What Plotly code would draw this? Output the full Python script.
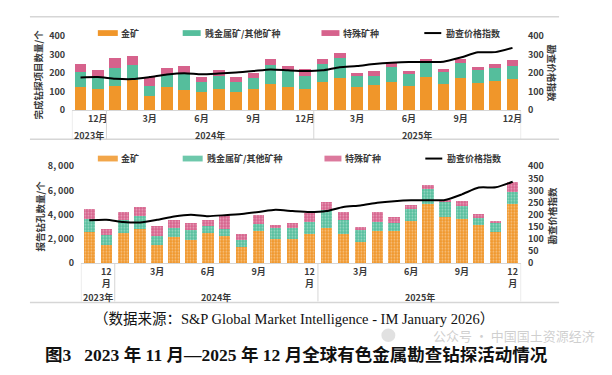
import plotly.graph_objects as go

W, H = 612, 375

months = ["2023-11", "2023-12"] + [f"2024-{m:02d}" for m in range(1, 13)] + [f"2025-{m:02d}" for m in range(1, 13)]
tick_months = ["2023-12", "2024-03", "2024-06", "2024-09", "2024-12", "2025-03", "2025-06", "2025-09", "2025-12"]
tick_text_top = ["12月", "3月", "6月", "9月", "12月", "3月", "6月", "9月", "12月"]
tick_text_bottom = ["12<br>月", "3月", "6月", "9月", "12<br>月", "3月", "6月", "9月", "12<br>月"]
year_labels = ["2023年", "2024年", "2025年"]

# Top panel: completed drilling projects (count)
proj_gold = [123, 112, 133, 165, 79, 123, 111, 100, 112, 96, 112, 142, 123, 116, 154, 175, 123, 135, 152, 133, 177, 140, 173, 145, 158, 171]
proj_base = [84, 60, 93, 81, 54, 68, 87, 53, 74, 55, 62, 102, 96, 70, 94, 106, 64, 52, 82, 61, 81, 68, 83, 70, 71, 69]
proj_special = [44, 47, 53, 45, 48, 35, 39, 28, 30, 30, 28, 31, 18, 37, 27, 29, 16, 24, 24, 19, 19, 15, 21, 19, 20, 31]

# Bottom panel: reported drill holes (count)
hole_gold = [2610, 1490, 2480, 2830, 1520, 2190, 1890, 2510, 2210, 1330, 2640, 2000, 2030, 2410, 2930, 2420, 1785, 2620, 2650, 3490, 4900, 3835, 3635, 3170, 2540, 4870]
hole_base = [1020, 800, 1110, 1060, 750, 690, 880, 530, 600, 560, 610, 930, 900, 1025, 1420, 1130, 945, 790, 705, 1000, 1210, 1250, 1075, 520, 760, 975]
hole_special = [800, 510, 600, 720, 800, 690, 510, 510, 1145, 480, 695, 240, 375, 665, 680, 670, 240, 820, 425, 330, 330, 150, 430, 345, 200, 865]

# Exploration price index
price_index = [177, 179, 170, 168, 179, 193, 200, 194, 198, 203, 211, 220, 215, 211, 215, 232, 238, 249, 256, 260, 260, 261, 284, 312, 313, 336]

names = ["金矿", "贱金属矿/其他矿种", "特殊矿种", "勘查价格指数"]
C_GOLD, C_BASE, C_SPEC = "#F0962A", "#55BE9C", "#D6628C"
TXT = "#3a3a3a"
GRID = "#d6d6d6"
FONT = "Noto Sans CJK SC, Noto Sans, sans-serif"
SERIF = "Liberation Serif, Noto Sans CJK SC, serif"


def px(x):
    return x / W


def py(y):
    return 1 - y / H


fig = go.Figure()

# top bars
for vals, col, nm in [(proj_gold, C_GOLD, names[0]), (proj_base, C_BASE, names[1]), (proj_special, C_SPEC, names[2])]:
    fig.add_trace(go.Bar(x=months, y=vals, name=nm, marker=dict(color=col, line=dict(width=0)),
                         xaxis="x", yaxis="y", showlegend=False))
fig.add_trace(go.Scatter(x=months, y=price_index, mode="lines", name=names[3],
                         line=dict(color="black", width=2, shape="spline", smoothing=0.6),
                         xaxis="x", yaxis="y2", showlegend=False))

# bottom bars (textured)
for vals, col, nm in [(hole_gold, C_GOLD, names[0]), (hole_base, C_BASE, names[1]), (hole_special, C_SPEC, names[2])]:
    fig.add_trace(go.Bar(x=months, y=vals, name=nm,
                         marker=dict(color=col, line=dict(width=0),
                                     pattern=dict(shape=".", fgcolor="white", bgcolor=col, size=3,
                                                  solidity=0.3, fgopacity=0.45)),
                         xaxis="x2", yaxis="y3", showlegend=False))
fig.add_trace(go.Scatter(x=months, y=price_index, mode="lines", name=names[3],
                         line=dict(color="black", width=2, shape="spline", smoothing=0.6),
                         xaxis="x2", yaxis="y4", showlegend=False))

tickfont = dict(family=FONT, size=9, color=TXT, weight="bold")

fig.update_layout(
    width=W, height=H,
    margin=dict(l=0, r=0, t=0, b=0),
    paper_bgcolor="white", plot_bgcolor="rgba(0,0,0,0)",
    barmode="stack", bargap=0.33,
    font=dict(family=FONT, color=TXT),
    xaxis=dict(domain=[px(72), px(522)], anchor="y", type="category", categoryorder="array",
               categoryarray=months, tickmode="array", tickvals=tick_months, ticktext=tick_text_top,
               tickfont=tickfont, showline=True, linecolor=GRID, linewidth=1, ticks="",
               showgrid=False, zeroline=False, range=[-0.5, 25.5]),
    yaxis=dict(domain=[py(107), py(30)], anchor="x", range=[0, 400], dtick=100,
               tickfont=tickfont, showgrid=False, zeroline=False, showline=False,
               ticks="outside", ticklen=4, tickcolor="rgba(0,0,0,0)"),
    yaxis2=dict(overlaying="y", side="right", anchor="x", range=[0, 400], dtick=100,
                tickfont=tickfont, showgrid=False, zeroline=False, showline=False,
                ticks="outside", ticklen=4, tickcolor="rgba(0,0,0,0)"),
    xaxis2=dict(domain=[px(81), px(522)], anchor="y3", type="category", categoryorder="array",
                categoryarray=months, tickmode="array", tickvals=tick_months, ticktext=tick_text_bottom,
                tickfont=tickfont, showline=True, linecolor=GRID, linewidth=1, ticks="",
                showgrid=False, zeroline=False, range=[-0.5, 25.5]),
    yaxis3=dict(domain=[py(265.3), py(165)], anchor="x2", range=[0, 8000],
                tickmode="array", tickvals=[0, 2000, 4000, 6000, 8000],
                ticktext=["0", "2, 000", "4, 000", "6, 000", "8, 000"],
                tickfont=tickfont, showgrid=False, zeroline=False, showline=False,
                ticks="outside", ticklen=4, tickcolor="rgba(0,0,0,0)"),
    yaxis4=dict(overlaying="y3", side="right", anchor="x2", range=[0, 400], dtick=50,
                tickfont=tickfont, showgrid=False, zeroline=False, showline=False,
                ticks="outside", ticklen=4, tickcolor="rgba(0,0,0,0)"),
)

shapes = []
annotations = []

# frame lines
for yy in [10, 137, 306]:
    shapes.append(dict(type="line", xref="paper", yref="paper", x0=px(30), x1=px(560), y0=py(yy), y1=py(yy),
                       line=dict(color=GRID, width=1.5)))

# category group boxes
for xr, y0, y1 in [("x", 107, 137), ("x2", 265.3, 305)]:
    for b in [-0.5, 1.5, 13.5, 25.5]:
        shapes.append(dict(type="line", xref=xr, yref="paper", x0=b, x1=b, y0=py(y0), y1=py(y1),
                           line=dict(color=GRID, width=1)))

# year labels
for xr, yy in [("x", 133), ("x2", 301)]:
    for lab, xc in zip(year_labels, [0.5, 7.5, 19.5]):
        annotations.append(dict(text=lab, xref=xr, yref="paper", x=xc, y=py(yy), showarrow=False,
                                xanchor="center", yanchor="middle",
                                font=dict(family=FONT, size=9, color=TXT, weight="bold")))

# manual legends
legend_font = dict(family=FONT, size=9, color=TXT, weight="bold")
for yc, pos, textured in [(27, [(98, 118, 119), (183, 201, 203), (322, 340, 342), (425, 442, 445)], False),
                          (157, [(98, 118, 119), (183, 203, 205), (325, 342, 344), (426, 443, 446)], True)]:
    cols = [C_GOLD, C_BASE, C_SPEC]
    for i, (xa, xb, xt) in enumerate(pos):
        if i < 3:
            shapes.append(dict(type="rect", xref="paper", yref="paper", x0=px(xa), x1=px(xb),
                               y0=py(yc + 3), y1=py(yc - 3), fillcolor=cols[i], line=dict(width=0),
                               opacity=0.85 if textured else 1))
        else:
            shapes.append(dict(type="line", xref="paper", yref="paper", x0=px(xa), x1=px(xb),
                               y0=py(yc), y1=py(yc), line=dict(color="black", width=2)))
        annotations.append(dict(text=names[i], xref="paper", yref="paper", x=px(xt), y=py(yc),
                                xanchor="left", yanchor="middle", showarrow=False, font=legend_font))

# axis titles
title_font = dict(family=FONT, size=9.5, color=TXT, weight="bold")
annotations += [
    dict(text="完成钻探项目数量/个", xref="paper", yref="paper", x=px(38), y=py(70), textangle=-90,
         xanchor="center", yanchor="middle", showarrow=False, font=title_font),
    dict(text="勘查价格指数", xref="paper", yref="paper", x=px(553), y=py(69), textangle=90,
         xanchor="center", yanchor="middle", showarrow=False, font=title_font),
    dict(text="报告钻孔数量/个", xref="paper", yref="paper", x=px(40), y=py(216), textangle=-90,
         xanchor="center", yanchor="middle", showarrow=False, font=title_font),
    dict(text="勘查价格指数", xref="paper", yref="paper", x=px(552), y=py(216), textangle=-90,
         xanchor="center", yanchor="middle", showarrow=False, font=title_font),
]

# watermark icon (light grey bubble)
shapes.append(dict(type="circle", xref="paper", yref="paper", x0=px(382), x1=px(396), y0=py(347), y1=py(333),
                   fillcolor="rgba(170,170,170,0.35)", line=dict(width=0)))

# captions
annotations += [
    dict(text="（数据来源：S&P Global Market Intelligence - IM January 2026）", xref="paper", yref="paper",
         x=px(294), y=py(323), showarrow=False, xanchor="center", yanchor="middle",
         font=dict(family=SERIF, size=14.5, color="#111")),
    dict(text="公众号 · 中国国土资源经济", xref="paper", yref="paper", x=px(598), y=py(340), xanchor="right",
         yanchor="middle", showarrow=False, font=dict(family=FONT, size=13, color="rgba(160,160,160,0.5)")),
    dict(text="图3   2023 年 11 月—2025 年 12 月全球有色金属勘查钻探活动情况", xref="paper", yref="paper",
         x=px(297), y=py(360), showarrow=False, xanchor="center", yanchor="middle",
         font=dict(family=SERIF, size=17.5, color="#111", weight="bold")),
]

fig.update_layout(shapes=shapes, annotations=annotations)
fig.write_html("out.html", config={"displayModeBar": False},
               post_script="document.body.style.margin='0';document.body.style.overflow='hidden';")
